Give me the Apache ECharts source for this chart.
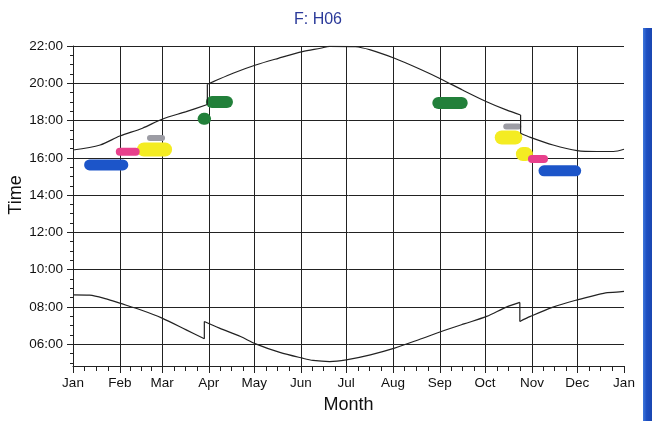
<!DOCTYPE html>
<html>
<head>
<meta charset="utf-8">
<script src="https://cdn.jsdelivr.net/npm/echarts@6/dist/echarts.min.js"></script>
<style>
  html, body { margin: 0; padding: 0; background: #fff; }
  #chart { width: 655px; height: 421px; }
</style>
</head>
<body>
<div id="chart"></div>
<script>
// Day-of-year at which each month starts, and its label
const monthStarts = [0, 31, 59, 90, 120, 151, 181, 212, 243, 273, 304, 334, 365];
const monthLabels = ['Jan', 'Feb', 'Mar', 'Apr', 'May', 'Jun', 'Jul', 'Aug', 'Sep', 'Oct', 'Nov', 'Dec', 'Jan'];

// Hour-of-day gridlines / labels
const hourTicks = [6, 8, 10, 12, 14, 16, 18, 20, 22];

// Sunset and sunrise times [day of year, hour], with the clock-change steps
const sunset = [
  [0, 16.42], [18, 16.69], [31, 17.17], [46, 17.59], [59, 18.07], [75, 18.48],
  [89, 18.86], [89, 19.95], [93, 20.09], [106, 20.54], [121, 20.98], [136, 21.34],
  [152, 21.7], [164, 21.88], [170, 21.98], [187, 21.96], [197, 21.79], [213, 21.34],
  [230, 20.75], [245, 20.18], [258, 19.64], [274, 19.01], [287, 18.57], [296.5, 18.3],
  [296.5, 17.32], [303, 17.1], [318, 16.69], [334, 16.39], [347, 16.34], [358, 16.34],
  [365, 16.46]
];
const sunrise = [
  [0, 8.65], [11, 8.63], [22, 8.43], [31, 8.2], [46, 7.81], [59, 7.4], [75, 6.77],
  [87, 6.29], [87, 7.22], [97, 6.86], [111, 6.41], [121, 6.02], [137, 5.56],
  [152, 5.25], [159, 5.13], [170, 5.07], [181, 5.16], [197, 5.43], [213, 5.79],
  [229, 6.24], [244, 6.68], [259, 7.09], [274, 7.49], [287, 7.99], [296, 8.24],
  [296, 7.22], [303, 7.49], [318, 7.99], [334, 8.38], [347, 8.65], [354, 8.77],
  [360, 8.79], [365, 8.83]
];

// Observation bands: [first day, last day, hour]
const blueBands   = [[11, 33, 15.62], [312, 333, 15.3]];
const pinkBands   = [[31, 41.5, 16.32], [304, 312, 15.94]];
const yellowBands = [[47, 61, 16.45], [284, 293, 17.09], [298, 300, 16.2]];
const greyBands   = [[51, 59, 17.07], [287, 295, 17.68]];
const greenBands  = [[92, 102, 19.0], [86.5, 87.5, 18.09], [242, 257.5, 18.94]];

const bandColors = {
  blue: '#1c55c9', pink: '#e8408c', yellow: '#f4ec22', grey: '#9c9ca4', green: '#22803a'
};
const bandWidths = {
  blue: 11, pink: 8, yellow: 14, grey: 6, green: 12
};

// Quarter-month minor tick positions along the date axis
const minorDayTicks = [];
for (let i = 0; i < 12; i++) {
  const s = monthStarts[i], len = monthStarts[i + 1] - s;
  minorDayTicks.push(s + len / 4, s + len / 2, s + 3 * len / 4);
}
// Half-hour minor ticks on the time axis
const minorHourTicks = [];
for (let h = 5; h < 22; h += 0.5) {
  if (hourTicks.indexOf(h) < 0) minorHourTicks.push(h);
}

const FONT = 'Liberation Sans, Arial, sans-serif';
const INK = '#222';

function bandSeries(list, key) {
  return list.map(function (b) {
    return {
      type: 'line',
      data: [[b[0], b[2]], [b[1], b[2]]],
      showSymbol: false,
      silent: true,
      z: 3,
      lineStyle: { color: bandColors[key], width: bandWidths[key], cap: 'round', join: 'round' }
    };
  });
}

const curveStyle = { color: INK, width: 1.2 };

// A curve is drawn as smooth runs, joined by straight steps wherever the
// clock changes (two consecutive samples on the same day).
function curveSeries(points) {
  const out = [];
  let run = [points[0]];
  const flush = function () {
    out.push({ type: 'line', data: run, showSymbol: false, silent: true, z: 5,
               smooth: 0.3, lineStyle: curveStyle });
  };
  for (let i = 1; i < points.length; i++) {
    if (points[i][0] === points[i - 1][0]) {
      flush();
      out.push({ type: 'line', data: [points[i - 1], points[i]], showSymbol: false,
                 silent: true, z: 5, lineStyle: curveStyle });
      run = [points[i]];
    } else {
      run.push(points[i]);
    }
  }
  flush();
  return out;
}

const series = [].concat(
  bandSeries(yellowBands, 'yellow'),
  bandSeries(greyBands, 'grey'),
  bandSeries(pinkBands, 'pink'),
  bandSeries(blueBands, 'blue'),
  bandSeries(greenBands, 'green'),
  curveSeries(sunset),
  curveSeries(sunrise)
);

const Y_MIN = 4.83;
const X_MIN = 0, X_MAX = 365;

const chart = echarts.init(document.getElementById('chart'), null, { renderer: 'canvas' });
chart.setOption({
  animation: false,
  backgroundColor: '#fff',
  title: {
    text: 'F: H06',
    left: 289,
    top: 7,
    textStyle: { fontFamily: FONT, fontSize: 16, fontWeight: 'normal', color: '#2b3a9a' }
  },
  grid: { left: 73, right: 31, top: 46, bottom: 55, containLabel: false, outerBoundsMode: 'none' },
  xAxis: [
    {
      type: 'value', min: X_MIN, max: X_MAX, position: 'bottom',
      name: 'Month', nameLocation: 'middle', nameGap: 30,
      nameTextStyle: { fontFamily: FONT, fontSize: 18, color: '#111' },
      axisLine: { show: true, lineStyle: { color: INK, width: 1 } },
      axisTick: { show: true, length: 7, lineStyle: { color: INK, width: 1 },
                  customValues: monthStarts.slice(0, 12) },
      axisLabel: { customValues: monthStarts, margin: 10,
                   fontFamily: FONT, fontSize: 13.5, color: '#111',
                   formatter: function (v) {
                     const i = monthStarts.indexOf(Math.round(v));
                     return i >= 0 ? monthLabels[i] : '';
                   } },
      splitLine: { show: true, lineStyle: { color: INK, width: 1 } }
    },
    {
      // short quarter-month ticks
      type: 'value', min: X_MIN, max: X_MAX, position: 'bottom',
      axisLine: { show: false },
      axisTick: { show: true, length: 5, lineStyle: { color: INK, width: 1 },
                  customValues: minorDayTicks },
      axisLabel: { show: false },
      splitLine: { show: false }
    },
    {
      // closing tick at the year end
      type: 'value', min: X_MIN, max: X_MAX, position: 'bottom',
      axisLine: { show: false },
      axisTick: { show: true, length: 7, lineStyle: { color: INK, width: 1 },
                  customValues: [X_MAX] },
      axisLabel: { show: false },
      splitLine: { show: false }
    }
  ],
  yAxis: [
    {
      type: 'value', min: Y_MIN, max: 22, position: 'left',
      axisLine: { show: true, lineStyle: { color: INK, width: 1 } },
      axisTick: { show: true, length: 6, lineStyle: { color: INK, width: 1 },
                  customValues: hourTicks },
      axisLabel: { customValues: hourTicks, margin: 10,
                   fontFamily: FONT, fontSize: 13.5, color: '#111',
                   formatter: function (v) {
                     const h = Math.round(v);
                     return (h < 10 ? '0' : '') + h + ':00';
                   } },
      splitLine: { show: true, lineStyle: { color: INK, width: 1 } }
    },
    {
      // half-hour ticks
      type: 'value', min: Y_MIN, max: 22, position: 'left',
      axisLine: { show: false },
      axisTick: { show: true, length: 3, lineStyle: { color: INK, width: 1 },
                  customValues: minorHourTicks },
      axisLabel: { show: false },
      splitLine: { show: false }
    }
  ],
  graphic: [
    {
      // vertical axis title
      type: 'text', silent: true,
      x: 16, y: 195, rotation: Math.PI / 2,
      style: {
        text: 'Time', align: 'center', verticalAlign: 'middle',
        font: '18px ' + FONT, fill: '#111'
      }
    },
    {
      type: 'rect', silent: true,
      shape: { x: 643, y: 28, width: 9, height: 393 },
      style: {
        fill: new echarts.graphic.LinearGradient(0, 0, 1, 0, [
          { offset: 0, color: '#3f78dc' },
          { offset: 0.4, color: '#1d4fc2' },
          { offset: 1, color: '#1a46b0' }
        ])
      }
    }
  ],
  series: series
});
</script>
</body>
</html>
